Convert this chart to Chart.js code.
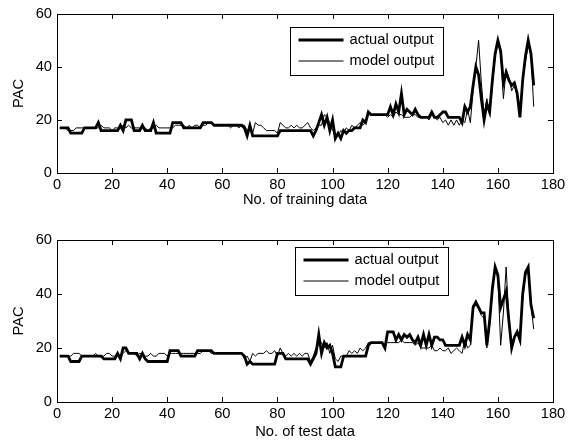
<!DOCTYPE html>
<html>
<head>
<meta charset="utf-8">
<script src="https://cdn.jsdelivr.net/npm/chart.js@4"></script>
<style>
  body { margin: 0; background: #fff; }
  canvas { position: absolute; left: 0; }
  #trainChart { top: 0; }
  #testChart { top: 220px; }
</style>
</head>
<body>
<canvas id="trainChart" width="574" height="220"></canvas>
<canvas id="testChart" width="574" height="223"></canvas>
<script>
// sample numbers 1..173
const sampleNo = Array.from({ length: 173 }, (_, i) => i + 1);
const xTicks = [0, 20, 40, 60, 80, 100, 120, 140, 160, 180];
const yTicks = [0, 20, 40, 60];

// training set
const trainActual = [
  17,17,17,17,15,15,15,15,15,17, 17,17,17,17,19,16,16,16,16,16,
  16,16,18,16,20,20,20,16,16,16, 18,16,16,16,19,15,15,15,15,15,
  15,19,19,19,19,17,17,17,17,17, 17,17,19,19,19,19,18,18,18,18,
  18,18,18,18,18,18,18,17,14,18, 14,14,14,14,14,14,14,14,14,14,
  16,16,16,16,16,16,16,16,16,16, 16,16,14,16,19,22,18,21,16,20,
  13,15,13,16,15,16,16,17,17,17, 20,19,23,22,22,22,22,22,22,22,
  25,22,26,23,30,22,24,23,22,24, 22,21,21,21,21,23,21,21,22,23,
  23,21,21,21,21,21,19,25,23,25, 33,40,37,28,20,26,23,35,45,50,
  46,34,38,35,33,34,30,21,35,44, 50,45,33
];
const trainModel = [
  17,17,17,16,16,16,17,17,17,17, 17,17,17,17,17,18,17,17,17,16,
  17,17,17,18,17,18,17,17,17,17, 17,17,16,17,17,18,17,17,17,17,
  17,17,18,18,18,18,17,18,17,18, 18,17,18,18,19,19,18,18,18,18,
  18,18,17,18,18,17,18,18,16,17, 15,19,18,18,17,16,16,16,16,15,
  19,18,17,17,18,17,18,17,17,18, 19,17,16,17,18,18,22,21,19,16,
  15,14,16,15,17,16,18,17,18,19, 18,19,22,22,22,22,22,22,22,21,
  22,21,23,22,22,21,21,21,22,22, 21,21,21,21,20,22,21,20,21,19,
  20,18,20,18,20,18,20,19,24,19, 31,40,50,34,22,28,22,33,44,49,
  45,28,39,36,31,33,29,23,35,42, 48,45,25
];

// test set
const testActual = [
  17,17,17,17,15,15,15,15,17,17, 17,17,17,17,17,17,16,16,16,16,
  16,18,16,20,20,18,18,18,18,16, 18,16,15,15,15,15,15,15,15,15,
  19,19,19,19,17,17,17,17,17,17, 19,19,19,19,19,19,18,18,18,18,
  18,18,18,18,18,18,18,17,14,15, 14,14,14,14,14,14,14,14,14,18,
  18,18,16,16,16,16,16,16,16,16, 16,14,16,18,25,18,22,20,21,18,
  13,13,13,17,17,17,17,17,17,17, 17,17,21,22,22,22,22,22,20,26,
  26,26,23,25,23,25,24,25,23,22, 24,21,25,21,25,21,24,24,23,23,
  21,21,21,21,21,21,24,21,25,23, 35,37,35,33,33,21,30,42,50,47,
  35,38,41,30,20,24,26,23,40,48, 50,36,31
];
const testModel = [
  17,17,17,17,17,18,18,18,17,17, 17,17,17,18,17,17,17,18,18,17,
  17,18,17,18,19,18,18,18,17,18, 18,17,17,18,17,17,18,18,18,17,
  18,18,18,18,18,18,18,18,18,18, 18,18,19,19,19,18,18,18,18,18,
  18,18,18,18,18,18,18,16,17,15, 18,17,18,18,18,19,18,18,19,17,
  20,18,17,18,17,18,17,18,17,18, 18,15,17,20,21,22,20,22,18,21,
  16,15,17,17,17,19,18,19,18,20, 19,20,22,22,22,22,22,22,21,22,
  22,22,22,22,23,22,22,22,22,21, 22,20,20,20,20,21,19,19,20,19,
  19,20,18,19,20,19,18,23,20,21, 36,37,35,32,31,20,28,42,49,46,
  21,33,50,30,22,24,25,24,38,47, 48,36,27
];

const FONT = 'Liberation Sans, Arial, sans-serif';
const FSIZE = 14.7;

// MATLAB-style box with inward ticks and a boxed legend inside the axes
const matlabAxes = {
  id: 'matlabAxes',
  afterDraw(chart, args, opts) {
    const ctx = chart.ctx;
    const a = chart.chartArea;
    const xs = chart.scales.x, ys = chart.scales.y;
    ctx.save();
    ctx.strokeStyle = '#000';
    ctx.lineWidth = 1;
    ctx.strokeRect(Math.round(a.left) + 0.5, Math.round(a.top) + 0.5,
      Math.round(a.right - a.left), Math.round(a.bottom - a.top));
    const len = 5;
    ctx.beginPath();
    xs.ticks.forEach(t => {
      const px = Math.round(xs.getPixelForValue(t.value)) + 0.5;
      ctx.moveTo(px, a.bottom); ctx.lineTo(px, a.bottom - len);
      ctx.moveTo(px, a.top); ctx.lineTo(px, a.top + len);
    });
    ys.ticks.forEach(t => {
      const py = Math.round(ys.getPixelForValue(t.value)) + 0.5;
      ctx.moveTo(a.left, py); ctx.lineTo(a.left + len, py);
      ctx.moveTo(a.right, py); ctx.lineTo(a.right - len, py);
    });
    ctx.stroke();

    // legend box
    const w = 153, h = 48;
    const bx = Math.round(a.right - opts.right - w) + 0.5;
    const by = Math.round(a.top + opts.top) + 0.5;
    ctx.fillStyle = '#fff';
    ctx.fillRect(bx, by, w, h);
    ctx.strokeRect(bx, by, w, h);
    ctx.font = FSIZE + 'px ' + FONT;
    ctx.textBaseline = 'middle';
    ctx.fillStyle = '#000';
    chart.data.datasets.forEach((ds, i) => {
      const ry = by + 12.5 + i * 21;
      ctx.beginPath();
      ctx.lineWidth = ds.borderWidth;
      ctx.moveTo(bx + 8, ry); ctx.lineTo(bx + 53, ry);
      ctx.stroke();
      ctx.fillText(ds.label, bx + 59, ry);
    });
    ctx.restore();
  }
};

function makeChart(id, actual, model, xTitle, pad, legendPos) {
  const ctx = document.getElementById(id).getContext('2d');
  return new Chart(ctx, {
    type: 'line',
    data: {
      datasets: [{
        label: 'actual output',
        data: actual.map((v, i) => ({ x: sampleNo[i], y: v })),
        borderColor: '#000',
        borderWidth: 2.8,
        pointRadius: 0,
        tension: 0
      }, {
        label: 'model output',
        data: model.map((v, i) => ({ x: sampleNo[i], y: v })),
        borderColor: '#000',
        borderWidth: 1,
        pointRadius: 0,
        tension: 0
      }]
    },
    options: {
      responsive: false,
      animation: false,
      layout: { padding: { top: pad.top, right: 21, bottom: 0, left: 0 } },
      plugins: {
        legend: { display: false },
        tooltip: { enabled: false },
        matlabAxes: legendPos
      },
      scales: {
        x: {
          type: 'linear',
          min: xTicks[0],
          max: xTicks[xTicks.length - 1],
          afterBuildTicks: s => { s.ticks = xTicks.map(v => ({ value: v })); },
          grid: { display: false, drawTicks: false },
          border: { display: false },
          ticks: { color: '#000', font: { family: FONT, size: FSIZE }, padding: 3, maxRotation: 0 },
          title: { display: true, text: xTitle, color: '#000',
                   font: { family: FONT, size: FSIZE }, padding: { top: 0, bottom: pad.title } },
          afterFit: s => { s.height = pad.xh; }
        },
        y: {
          min: yTicks[0],
          max: yTicks[yTicks.length - 1],
          afterBuildTicks: s => { s.ticks = yTicks.map(v => ({ value: v })); },
          grid: { display: false, drawTicks: false },
          border: { display: false },
          ticks: { color: '#000', font: { family: FONT, size: FSIZE }, padding: 5 },
          title: { display: true, text: 'PAC', color: '#000',
                   font: { family: FONT, size: FSIZE }, padding: { top: 10, bottom: 0 } },
          afterFit: s => { s.width = 57; }
        }
      }
    },
    plugins: [matlabAxes]
  });
}

makeChart('trainChart', trainActual, trainModel, 'No. of training data',
  { top: 11, xh: 47, title: 11 }, { right: 110, top: 13 });
makeChart('testChart', testActual, testModel, 'No. of test data',
  { top: 20, xh: 41, title: 2.5 }, { right: 105, top: 7 });
</script>
</body>
</html>
